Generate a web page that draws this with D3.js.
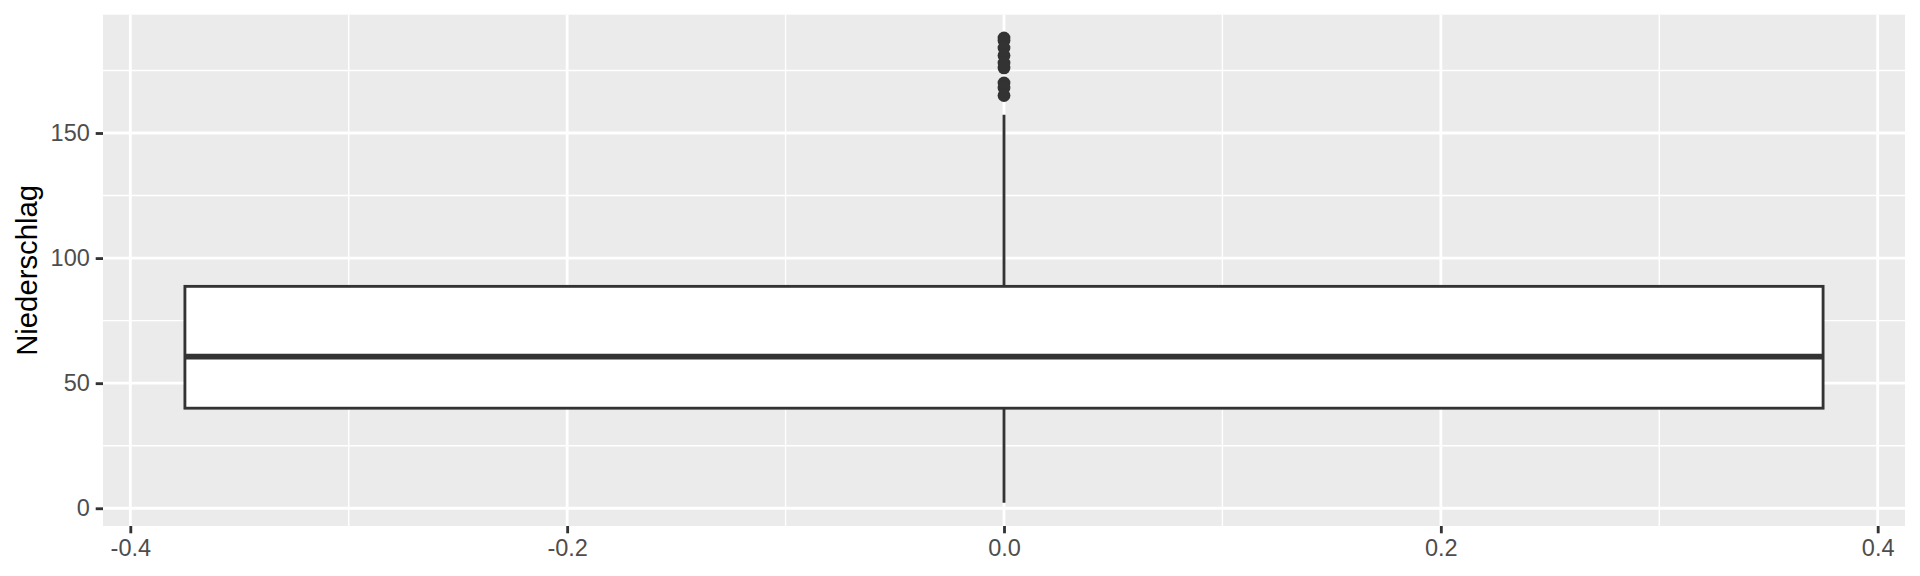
<!DOCTYPE html>
<html>
<head>
<meta charset="utf-8">
<script src="https://cdn.jsdelivr.net/npm/d3@7"></script>
<style>
  body { margin: 0; background: white; }
  text { font-family: "Liberation Sans", Arial, sans-serif; }
</style>
</head>
<body>
<svg class="graph"></svg>
<script>
// box statistics (Niederschlag)
var boxStats = { lower: 2.2, q1: 40, median: 60.6, q3: 88.7, upper: 157.3 }
var outliers = [188, 187, 184, 181, 178, 176, 170, 168, 165]
var boxX = [-0.375, 0.375]

var xTicks = [-0.4, -0.2, 0, 0.2, 0.4]
var xLabels = ["-0.4", "-0.2", "0.0", "0.2", "0.4"]
var xMinor = [-0.3, -0.1, 0.1, 0.3]
var yTicks = [0, 50, 100, 150]
var yMinor = [25, 75, 125, 175]
var yTitle = "Niederschlag"

var width = 1920, height = 576
var margin = { top: 14.7, right: 15, bottom: 50, left: 103 }

var lw = 2.84   // ggplot 0.5 linewidth at this resolution
var ink = "#333333"

var svg = d3.select(".graph")
    .attr("width", width)
    .attr("height", height)

// ggplot style 5% expansion
var xr = boxX[1] - boxX[0]
var x = d3.scaleLinear()
    .domain([boxX[0] - 0.05 * xr, boxX[1] + 0.05 * xr])
    .range([margin.left, width - margin.right])

var allY = [boxStats.lower, boxStats.upper].concat(outliers)
var ymin = d3.min(allY), ymax = d3.max(allY)
var yr = ymax - ymin
var y = d3.scaleLinear()
    .domain([ymin - 0.05 * yr, ymax + 0.05 * yr])
    .range([height - margin.bottom, margin.top])

// panel
svg.append("rect")
    .attr("x", x.range()[0])
    .attr("y", y.range()[1])
    .attr("width", x.range()[1] - x.range()[0])
    .attr("height", y.range()[0] - y.range()[1])
    .attr("fill", "#EBEBEB")

// grid lines
function vgrid(vals, w) {
    svg.append("g").selectAll("line")
        .data(vals).enter().append("line")
        .attr("x1", d => x(d)).attr("x2", d => x(d))
        .attr("y1", y.range()[0]).attr("y2", y.range()[1])
        .attr("stroke", "white").attr("stroke-width", w)
}
function hgrid(vals, w) {
    svg.append("g").selectAll("line")
        .data(vals).enter().append("line")
        .attr("y1", d => y(d)).attr("y2", d => y(d))
        .attr("x1", x.range()[0]).attr("x2", x.range()[1])
        .attr("stroke", "white").attr("stroke-width", w)
}
vgrid(xMinor, lw / 2)
hgrid(yMinor, lw / 2)
vgrid(xTicks, lw)
hgrid(yTicks, lw)

// whisker
svg.append("line")
    .attr("x1", x(0)).attr("x2", x(0))
    .attr("y1", y(boxStats.lower)).attr("y2", y(boxStats.upper))
    .attr("stroke", ink).attr("stroke-width", lw)

// box
svg.append("rect")
    .attr("x", x(boxX[0]))
    .attr("y", y(boxStats.q3))
    .attr("width", x(boxX[1]) - x(boxX[0]))
    .attr("height", y(boxStats.q1) - y(boxStats.q3))
    .attr("fill", "white")
    .attr("stroke", ink).attr("stroke-width", lw)

svg.append("line")
    .attr("x1", x(boxX[0])).attr("x2", x(boxX[1]))
    .attr("y1", y(boxStats.median)).attr("y2", y(boxStats.median))
    .attr("stroke", ink).attr("stroke-width", lw * 2)

// outliers
svg.append("g").selectAll("circle")
    .data(outliers).enter().append("circle")
    .attr("cx", x(0))
    .attr("cy", d => y(d))
    .attr("r", 6.4)
    .attr("fill", ink)

// axes
var tickLen = 7.3, tickPad = 5.9, tickSize = 23.5

var xAxis = svg.append("g")
    .attr("transform", "translate(0," + y.range()[0] + ")")
    .call(d3.axisBottom(x).tickValues(xTicks).tickSize(tickLen).tickPadding(tickPad)
        .tickFormat((d, i) => xLabels[i]))
var yAxis = svg.append("g")
    .attr("transform", "translate(" + x.range()[0] + ",0)")
    .call(d3.axisLeft(y).tickValues(yTicks).tickSize(tickLen).tickPadding(tickPad)
        .tickFormat(d3.format("d")))

for (let ax of [xAxis, yAxis]) {
    ax.select(".domain").remove()
    ax.selectAll(".tick line").attr("stroke", ink).attr("stroke-width", lw)
    ax.selectAll(".tick text")
        .attr("fill", "#4D4D4D")
        .style("font-size", tickSize + "px")
        .style("font-family", '"Liberation Sans", Arial, sans-serif')
}
xAxis.selectAll(".tick text").attr("dy", "0.71em")

svg.append("text")
    .attr("transform", "translate(37," + ((y.range()[0] + y.range()[1]) / 2) + ") rotate(-90)")
    .attr("text-anchor", "middle")
    .style("font-size", "29.3px")
    .attr("fill", "black")
    .text(yTitle)
</script>
</body>
</html>
